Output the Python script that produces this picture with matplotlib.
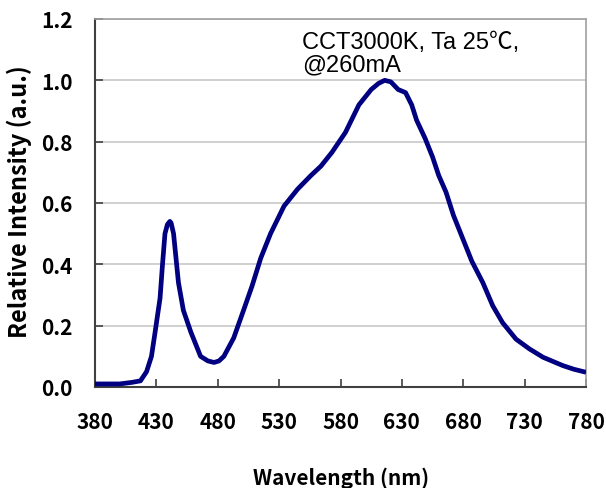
import matplotlib
matplotlib.use("Agg")
from matplotlib import pyplot as plt
import numpy as np

# spectrum
wavelength = [380, 390, 400, 410, 417, 422, 426, 429, 433, 435, 437, 439, 441, 442, 444,
              446, 448, 452, 458, 466, 472, 477, 481, 485, 493, 501, 508, 515, 523, 534,
              545, 556, 564, 573, 584, 595, 605, 611, 616, 621, 627, 633, 638, 642, 649,
              655, 660, 666, 672, 681, 687, 696, 704, 712, 723, 734, 745, 761, 770, 780]
intensity = [0.01, 0.01, 0.01, 0.015, 0.02, 0.05, 0.10, 0.18, 0.29, 0.40, 0.50, 0.53, 0.54, 0.535, 0.50,
             0.42, 0.34, 0.25, 0.18, 0.10, 0.085, 0.08, 0.085, 0.10, 0.16, 0.25, 0.33, 0.42, 0.50, 0.59,
             0.645, 0.69, 0.72, 0.765, 0.83, 0.92, 0.97, 0.99, 1.0, 0.995, 0.97, 0.96, 0.92, 0.87, 0.81,
             0.75, 0.69, 0.635, 0.56, 0.47, 0.41, 0.34, 0.265, 0.21, 0.156, 0.124, 0.097, 0.07, 0.058, 0.048]

xticks = np.arange(380, 781, 50)
yticks = np.arange(0, 1.21, 0.2)
note = "CCT3000K, Ta 25\u2103,\n@260mA"

tickfont = ['Noto Sans CJK KR', 'DejaVu Sans']
notefont = ['Liberation Sans', 'Noto Sans CJK KR', 'DejaVu Sans']

fig = plt.figure(figsize=(6.06, 4.89), dpi=100)
ax = fig.add_axes([95/606, 101/489, 491/606, 368/489])

ax.plot(wavelength, intensity, color='#000080', lw=3.4, solid_joinstyle='round',
        solid_capstyle='butt', zorder=3)

ax.set_xlim(380, 780)
ax.set_ylim(0, 1.2)
ax.set_xticks(xticks)
ax.set_yticks(yticks)
ax.set_yticklabels([f"{v:.1f}" for v in yticks])
ax.yaxis.grid(True, color='#c8c8c8', lw=1.2)
ax.set_axisbelow(True)

ax.tick_params(axis='both', direction='in', length=6, width=1.2, color='#404040')
ax.tick_params(axis='x', pad=17)
ax.tick_params(axis='y', pad=16)
for lab in ax.get_xticklabels() + ax.get_yticklabels():
    lab.set_family(tickfont)
    lab.set_fontweight('bold')
    lab.set_fontsize(15)

for s in ['left', 'bottom']:
    ax.spines[s].set_color('#404040')
    ax.spines[s].set_linewidth(1.5)
for s in ['top', 'right']:
    ax.spines[s].set_color('#a0a0a0')
    ax.spines[s].set_linewidth(1.2)

fig.text(341/606, 1 - 478/489, "Wavelength (nm)", family=tickfont, fontweight='bold',
         fontsize=15, ha='center', va='center')
fig.text(19/606, 1 - 202/489, "Relative Intensity (a.u.)", family=tickfont, fontweight='bold',
         fontsize=17, ha='center', va='center', rotation=90)

ax.text(302/606, 1 - 32/489, note, transform=fig.transFigure, family=notefont,
        fontsize=17, va='top', ha='left', linespacing=1.05)

fig.savefig("out.png", dpi=100)
